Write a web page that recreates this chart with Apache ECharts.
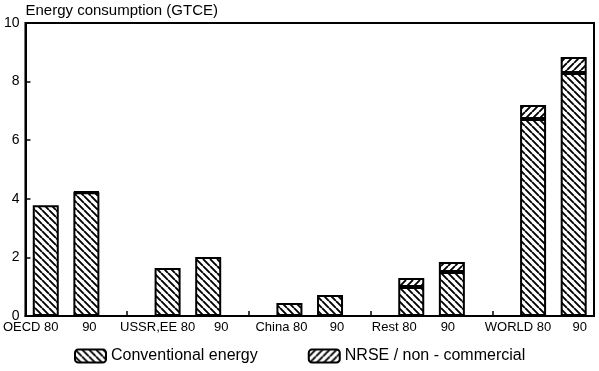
<!DOCTYPE html>
<html>
<head>
<meta charset="utf-8">
<script src="https://cdn.jsdelivr.net/npm/echarts@6/dist/echarts.min.js"></script>
<style>
html,body{margin:0;padding:0;background:#fff;}
#chart{width:599px;height:371px;}
</style>
</head>
<body>
<div id="chart"></div>
<script>
// ---- data ----
const categories = ['OECD 80','90','','USSR,EE 80','90','','China 80','90','','Rest 80','90','','WORLD 80','90'];
const conventional = [3.78, 4.22, null, 1.64, 2.01, null, 0.44, 0.72, null, 0.99, 1.50, null, 6.72, 8.29];
const nrse = [null, 0.03, null, null, null, null, null, null, null, 0.31, 0.34, null, 0.48, 0.55];
const yTicks = [0, 2, 4, 6, 8, 10];
const seriesNames = ['Conventional energy', 'NRSE / non - commercial'];
const axisTitle = 'Energy consumption (GTCE)';

// ---- styling ----
const labelShift = [-15, 3, 0, -10, 13, 0, -8, 7, 0, -17, -4, 0, -15, 6];
const FONT = 'Liberation Sans, Arial, sans-serif';

function hatch(dir) {
  const s = 7;
  const c = document.createElement('canvas');
  c.width = s; c.height = s;
  const ctx = c.getContext('2d');
  ctx.fillStyle = '#fff';
  ctx.fillRect(0, 0, s, s);
  ctx.strokeStyle = '#000';
  ctx.lineWidth = 1.9;
  ctx.beginPath();
  for (let k = -s; k <= s; k += s) {
    if (dir === 'back') { ctx.moveTo(k, 0); ctx.lineTo(k + s, s); }
    else { ctx.moveTo(k + s, 0); ctx.lineTo(k, s); }
  }
  ctx.stroke();
  return { image: c, repeat: 'repeat' };
}

const rich = {};
labelShift.forEach((d, i) => {
  rich['s' + i] = {
    fontFamily: FONT, fontSize: 13, color: '#000',
    padding: d < 0 ? [0, -2 * d, 0, 0] : [0, 0, 0, 2 * d]
  };
});

const chart = echarts.init(document.getElementById('chart'), null, { renderer: 'canvas' });
chart.setOption({
  animation: false,
  backgroundColor: '#fff',
  grid: { left: 24, right: 5, top: 23, bottom: 55, show: true, borderColor: '#000', borderWidth: 2, backgroundColor: 'transparent' },
  legend: {
    bottom: 7, left: 74, padding: 0,
    itemWidth: 31, itemHeight: 13, itemGap: 50,
    textStyle: { fontFamily: FONT, fontSize: 16, color: '#000' },
    data: seriesNames
  },
  xAxis: {
    type: 'category',
    data: categories,
    axisLine: { lineStyle: { color: '#000', width: 2 } },
    axisTick: { show: true, inside: true, alignWithLabel: true, length: 5, lineStyle: { color: '#000', width: 1.5 },
      interval: (i) => categories[i] === '' },
    axisLabel: {
      interval: 0, margin: 5, color: '#000', fontFamily: FONT, fontSize: 13,
      formatter: (v, i) => v === '' ? '' : '{s' + i + '|' + v + '}',
      rich: rich
    }
  },
  yAxis: {
    type: 'value', min: yTicks[0], max: yTicks[yTicks.length - 1], interval: 2,
    name: axisTitle, nameLocation: 'end', nameGap: 5,
    nameTextStyle: { align: 'left', fontFamily: FONT, fontSize: 15, color: '#000' },
    axisLine: { show: true, lineStyle: { color: '#000', width: 2 } },
    axisTick: { show: true, inside: true, length: 5, lineStyle: { color: '#000', width: 1.5 } },
    axisLabel: { margin: 6, color: '#000', fontFamily: FONT, fontSize: 14 },
    splitLine: { show: false }
  },
  series: [
    {
      name: seriesNames[0], type: 'bar', stack: 'e', barWidth: 26,
      data: conventional,
      itemStyle: { color: hatch('back'), borderColor: '#000', borderWidth: 2 }
    },
    {
      name: seriesNames[1], type: 'bar', stack: 'e', barWidth: 26,
      data: nrse,
      itemStyle: { color: hatch('fwd'), borderColor: '#000', borderWidth: 2 }
    }
  ]
});
</script>
</body>
</html>
